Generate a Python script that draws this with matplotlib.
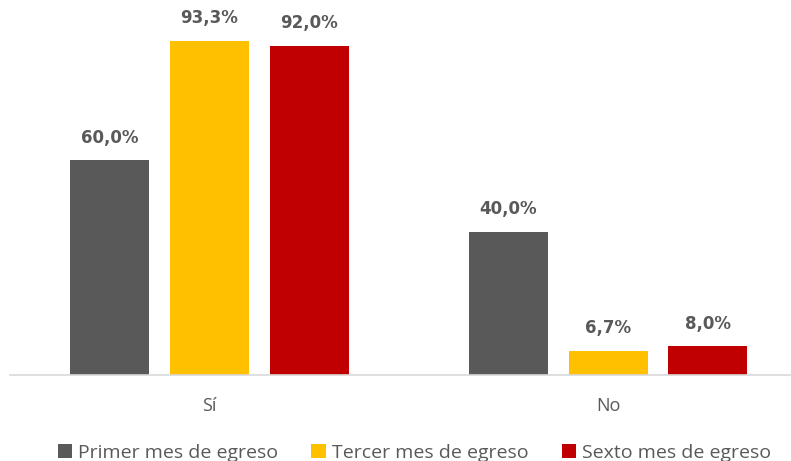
import numpy as np
import matplotlib.pyplot as plt

categories = ["Sí", "No"]
series = ["Primer mes de egreso", "Tercer mes de egreso", "Sexto mes de egreso"]
primer = [60.0, 40.0]
tercer = [93.3, 6.7]
sexto = [92.0, 8.0]
colors = ["#595959", "#FFC000", "#C00000"]

plt.rcParams['font.family'] = ['Open Sans', 'DejaVu Sans']

fig = plt.figure(figsize=(7.91, 4.61), dpi=100)
ax = fig.add_axes([10 / 791, 86 / 461, 780 / 791, 358 / 461])

x = np.arange(len(categories))
width = 0.198
offsets = [-0.25, 0.0, 0.25]
for vals, name, col, off in zip([primer, tercer, sexto], series, colors, offsets):
    bars = ax.bar(x + off, vals, width, color=col, label=name)
    for b, v in zip(bars, vals):
        ax.text(b.get_x() + b.get_width() / 2, v + 3.8, f"{v:.1f}%".replace(".", ","),
                ha="center", va="bottom", fontsize=12, fontweight="bold",
                color="#595959", family="DejaVu Sans")

ax.set_xlim(-0.5, 1.456)
ax.set_ylim(0, 100)
ax.set_xticks(x)
ax.set_xticklabels(categories, fontsize=13, color="#595959")
ax.tick_params(axis="x", length=0, pad=16)
ax.set_yticks([])
for s in ["top", "right", "left"]:
    ax.spines[s].set_visible(False)
ax.spines["bottom"].set_color("#D9D9D9")
ax.spines["bottom"].set_linewidth(1.2)

fig.legend(loc="lower center", bbox_to_anchor=(0.524, -0.04), ncol=3, frameon=False,
           fontsize=14, labelcolor="#595959", handlelength=0.75, handleheight=0.75,
           handletextpad=0.3, columnspacing=1.7)

fig.savefig("out.png", dpi=100)
